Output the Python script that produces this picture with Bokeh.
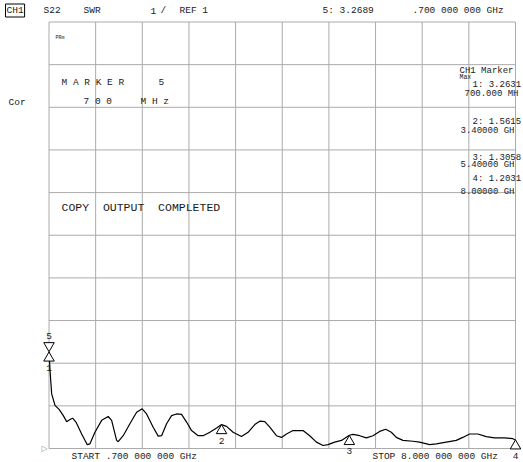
from bokeh.plotting import figure
from bokeh.models import Range1d, Label, ColumnDataSource
from bokeh.transform import dodge
from bokeh.core.properties import value
from bokeh.embed import file_html
from bokeh.resources import INLINE

# ---------------- data ----------------
freq_ghz = [0.700, 0.716, 0.742, 0.794, 0.861, 0.924, 0.977, 1.028, 1.070, 1.122,
            1.211, 1.299, 1.341, 1.419, 1.524, 1.627, 1.680, 1.758, 1.783, 1.861,
            1.966, 2.071, 2.158, 2.227, 2.330, 2.409, 2.462, 2.540, 2.618, 2.696,
            2.774, 2.853, 2.931, 3.034, 3.112, 3.217, 3.322, 3.400, 3.478, 3.581,
            3.712, 3.815, 3.920, 3.998, 4.077, 4.155, 4.259, 4.338, 4.416, 4.519,
            4.675, 4.780, 4.885, 4.988, 5.066, 5.171, 5.276, 5.400, 5.457, 5.562,
            5.666, 5.770, 5.874, 5.968, 6.057, 6.135, 6.238, 6.395, 6.500, 6.656,
            6.761, 6.917, 7.073, 7.176, 7.281, 7.411, 7.542, 7.672, 7.828, 7.958,
            8.000]
swr = [3.26, 2.83, 2.28, 2.01, 1.91, 1.77, 1.63, 1.68, 1.71, 1.62,
       1.34, 1.09, 1.11, 1.38, 1.66, 1.75, 1.66, 1.19, 1.16, 1.30,
       1.58, 1.85, 1.93, 1.81, 1.50, 1.29, 1.30, 1.58, 1.77, 1.81,
       1.80, 1.62, 1.42, 1.30, 1.30, 1.38, 1.48, 1.56, 1.52, 1.38,
       1.28, 1.38, 1.56, 1.64, 1.63, 1.50, 1.30, 1.26, 1.34, 1.42,
       1.42, 1.30, 1.15, 1.07, 1.09, 1.15, 1.19, 1.31, 1.33, 1.30,
       1.25, 1.30, 1.40, 1.45, 1.38, 1.26, 1.19, 1.17, 1.15, 1.09,
       1.11, 1.15, 1.19, 1.26, 1.34, 1.34, 1.28, 1.25, 1.25, 1.23,
       1.20]

marker_ids = ["1", "2", "3", "4"]
marker_freq = [0.7, 3.4, 5.4, 8.0]
marker_swr = [3.2631, 1.5615, 1.3058, 1.2031]
marker5_ids = ["5"]
marker5_freq = [0.7]
marker5_swr = [3.2689]

x_div = [0.70, 1.43, 2.16, 2.89, 3.62, 4.35, 5.08, 5.81, 6.54, 7.27, 8.00]
y_div = [1, 2, 3, 4, 5, 6, 7, 8, 9, 10, 11]
x_start, x_stop = 0.7, 8.0
y_ref, y_top = 1, 11

# ---------------- layout (pixels in page) ----------------
FIG_W, FIG_H = 523, 462
GL, GR, GT, GB = 48.5, 515, 21.5, 448     # grid box
kx = (x_stop - x_start) / (GR - GL)
ky = (y_top - y_ref) / (GB - GT)
xr = Range1d(x_start - GL * kx, x_stop + (FIG_W - GR) * kx)
yr = Range1d(y_ref - (FIG_H - GB) * ky, y_top + GT * ky)

p = figure(width=FIG_W, height=FIG_H, x_range=xr, y_range=yr,
           output_backend="svg", toolbar_location=None,
           x_axis_location=None, y_axis_location=None,
           min_border=0, min_border_left=0, min_border_right=0,
           min_border_top=0, min_border_bottom=0)
p.outline_line_color = None
p.xgrid.visible = False
p.ygrid.visible = False
p.background_fill_color = "white"
p.border_fill_color = "white"

GRID_C = "#ababab"
p.segment(x0=x_div, y0=[y_ref] * len(x_div), x1=x_div, y1=[y_top] * len(x_div),
          line_color=GRID_C, line_width=1)
p.segment(x0=[x_start] * len(y_div), y0=y_div, x1=[x_stop] * len(y_div), y1=y_div,
          line_color=GRID_C, line_width=1)

# trace
p.line(freq_ghz, swr, line_color="black", line_width=1.2)

# markers
TRI = 10.5
apex = TRI / 3 ** 0.5 * ky
msrc = ColumnDataSource(dict(f=marker_freq, s=marker_swr, id=marker_ids))
m5src = ColumnDataSource(dict(f=marker5_freq, s=marker5_swr, id=marker5_ids))
p.scatter(x="f", y=dodge("s", -apex), source=msrc, marker="triangle", size=TRI,
          fill_color="white", line_color="black", line_width=1)
p.scatter(x="f", y=dodge("s", apex), source=m5src, marker="inverted_triangle", size=TRI,
          fill_color="white", line_color="black", line_width=1)
p.text(x="f", y="s", text="id", source=msrc, y_offset=16, text_align="center",
       text_baseline="middle", text_font=value("Liberation Mono"),
       text_font_size="9.5px", text_color="#1a1a1a")
p.text(x="f", y="s", text="id", source=m5src, y_offset=-16, text_align="center",
       text_baseline="middle", text_font=value("Liberation Mono"),
       text_font_size="9.5px", text_color="#1a1a1a")


def add_text(txt, ix, iy, size=9.5, align="left", font="Liberation Mono",
             color="#1a1a1a", **kw):
    p.add_layout(Label(x=ix, y=FIG_H - iy, x_units="screen", y_units="screen",
                       text=txt, text_align=align, text_baseline="middle",
                       text_font=font, text_font_size=f"{size}px",
                       text_color=color, **kw))


NB = "\u00a0"

# header line
add_text("CH1", 5, 10, border_line_color="black", border_line_width=1, padding=1)
add_text("S22", 43, 10)
add_text("SWR", 83, 10)
add_text("1", 150, 10)
add_text("/", 160, 10)
add_text("REF 1", 179, 10)
add_text("5: 3.2689", 322, 10)
add_text(".700 000 000 GHz", 412, 10)

add_text("PRm", 55, 37, size=5)
add_text("Cor", 8, 102)

add_text("M A R K E R" + NB * 6 + "5", 61, 82)
add_text("7 0 0" + NB * 5 + "M H z", 83, 101)
add_text("COPY" + NB * 2 + "OUTPUT" + NB * 2 + "COMPLETED", 61, 207, size=11.5)

# marker table (right)
TS = 9
add_text("CH1 Marker", 459, 70, size=TS)
add_text("Max", 459, 76.5, size=6.5)
add_text("1: 3.2631", 472, 84.5, size=TS)
add_text("700.000 MH", 464, 93.5, size=TS)
add_text("2: 1.5615", 472, 121, size=TS)
add_text("3.40000 GH", 460, 130, size=TS)
add_text("3: 1.3058", 472, 157.5, size=TS)
add_text("5.40000 GH", 460, 164.5, size=TS)
add_text("4: 1.2031", 472, 178, size=TS)
add_text("8.00000 GH", 460, 191, size=TS)

# reference level indicator and footer
add_text("\u25b7", 41, 448, size=8, font="DejaVu Sans", color="#999999")
add_text("START .700 000 000 GHz", 71, 456)
add_text("STOP 8.000 000 000 GHz", 372, 456)

open("out.html", "w").write(file_html(p, INLINE))
